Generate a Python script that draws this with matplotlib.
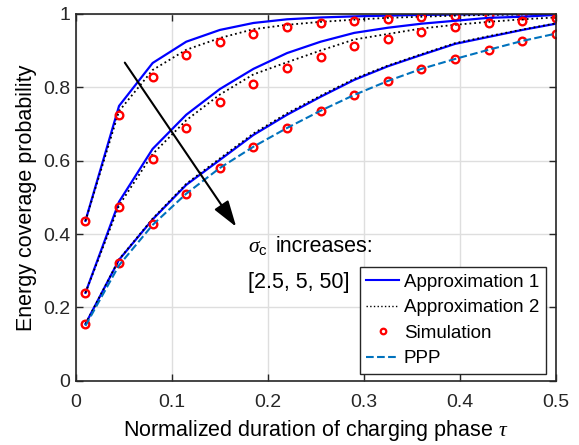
import numpy as np
from matplotlib import pyplot as plt

plt.rcParams['font.family'] = ['Liberation Sans', 'DejaVu Sans']
plt.rcParams['mathtext.fontset'] = 'custom'
plt.rcParams['mathtext.rm'] = 'Liberation Sans'
plt.rcParams['mathtext.it'] = 'Liberation Serif:italic'

# normalized duration of charging phase
tau = [0.01, 0.045, 0.08, 0.115, 0.15, 0.185, 0.22, 0.255, 0.29,
       0.325, 0.36, 0.395, 0.43, 0.465, 0.5]

# sigma_c = 2.5
approx1_a = [0.436, 0.749, 0.866, 0.924, 0.956, 0.975, 0.985, 0.99,
             0.993, 0.995, 0.997, 0.998, 0.999, 0.999, 1.0]
approx2_a = [0.436, 0.735, 0.847, 0.902, 0.934, 0.958, 0.97, 0.978,
             0.984, 0.989, 0.992, 0.995, 0.997, 0.998, 0.999]
sim_a = [0.436, 0.725, 0.828, 0.888, 0.924, 0.945, 0.965, 0.975,
         0.981, 0.986, 0.992, 0.995, 0.997, 0.997, 1.0]

# sigma_c = 5
approx1_b = [0.24, 0.488, 0.632, 0.725, 0.795, 0.85, 0.893, 0.924,
             0.948, 0.962, 0.973, 0.981, 0.989, 0.992, 0.997]
approx2_b = [0.24, 0.478, 0.618, 0.71, 0.78, 0.835, 0.868, 0.9,
             0.93, 0.945, 0.96, 0.97, 0.978, 0.985, 0.99]
sim_b = [0.24, 0.474, 0.605, 0.69, 0.76, 0.809, 0.853, 0.883,
         0.913, 0.932, 0.951, 0.964, 0.975, 0.981, 0.989]

# sigma_c = 50
approx1_c = [0.155, 0.33, 0.44, 0.534, 0.602, 0.67, 0.725, 0.774,
             0.82, 0.857, 0.888, 0.918, 0.937, 0.956, 0.973]
approx2_c = [0.155, 0.331, 0.442, 0.537, 0.606, 0.674, 0.729, 0.777,
             0.823, 0.859, 0.89, 0.92, 0.939, 0.957, 0.974]
sim_c = [0.155, 0.32, 0.428, 0.51, 0.58, 0.638, 0.689, 0.736,
         0.779, 0.817, 0.85, 0.877, 0.902, 0.926, 0.946]
ppp = [0.15, 0.315, 0.425, 0.51, 0.58, 0.638, 0.689, 0.736,
       0.779, 0.817, 0.85, 0.877, 0.902, 0.926, 0.946]

fig = plt.figure(figsize=(5.79, 4.45), dpi=100)
ax = fig.add_axes([0.131, 0.144, 0.829, 0.825])

for a1, a2, s in [(approx1_a, approx2_a, sim_a),
                  (approx1_b, approx2_b, sim_b),
                  (approx1_c, approx2_c, sim_c)]:
    ax.plot(tau, a1, color='#0000ff', lw=1.6)
    ax.plot(tau, a2, color='k', ls=':', lw=1.3)
    ax.plot(tau, s, 'o', mfc='none', mec='r', mew=1.7, ms=5.5)
ax.plot(tau, ppp, '--', color='#0072BD', lw=1.5)

# legend proxies
h1, = ax.plot([], [], color='#0000ff', lw=1.5, label='Approximation 1')
h2, = ax.plot([], [], color='k', ls=':', lw=1.0, label='Approximation 2')
h3, = ax.plot([], [], 'o', mfc='none', mec='r', mew=1.6, ms=4, label='Simulation')
h4, = ax.plot([], [], '--', color='#0072BD', lw=1.5, label='PPP')
leg = ax.legend(handles=[h1, h2, h3, h4], loc='lower right',
                bbox_to_anchor=(0.979, 0.019), fontsize=13.5,
                fancybox=False, edgecolor='0.15', framealpha=1,
                handlelength=1.75, handletextpad=0.25, labelspacing=0.45,
                borderpad=0.35, borderaxespad=0.0)
leg.get_frame().set_linewidth(1.0)

ax.annotate('', xy=(0.167, 0.42), xytext=(0.051, 0.867),
            arrowprops=dict(arrowstyle='-|>,head_length=1.0,head_width=0.32',
                            color='k', lw=1.5,
                            mutation_scale=16, shrinkA=0, shrinkB=0))
ax.text(0.179, 0.365, r'$\sigma_{\mathrm{c}}$', fontsize=15.5, va='center')
ax.text(0.2083, 0.365, 'increases:', fontsize=15.5, va='center')
ax.text(0.179, 0.267, '[2.5, 5, 50]', fontsize=15.5, va='center')

ax.set_xlim(0, 0.5)
ax.set_ylim(0, 1)
ax.set_xticks([0, 0.1, 0.2, 0.3, 0.4, 0.5])
ax.set_xticklabels(['0', '0.1', '0.2', '0.3', '0.4', '0.5'])
ax.set_yticks([0, 0.2, 0.4, 0.6, 0.8, 1])
ax.set_yticklabels(['0', '0.2', '0.4', '0.6', '0.8', '1'])
ax.grid(True, color='0.87', lw=1.0)
ax.set_axisbelow(True)
ax.tick_params(direction='in', labelsize=14, top=True, right=True, colors='0.15',
               labelcolor='0.15', length=5, width=1.0)
ax.tick_params(axis='x', pad=9.5)
ax.tick_params(axis='y', pad=4)
for sp in ax.spines.values():
    sp.set_color('0.15')
    sp.set_linewidth(1.2)
ax.set_xlabel(r'Normalized duration of charging phase $\tau$', fontsize=15.5,
              labelpad=5)
ax.set_ylabel('Energy coverage probability', fontsize=15.5, labelpad=4)

fig.savefig('out.png', dpi=100)
